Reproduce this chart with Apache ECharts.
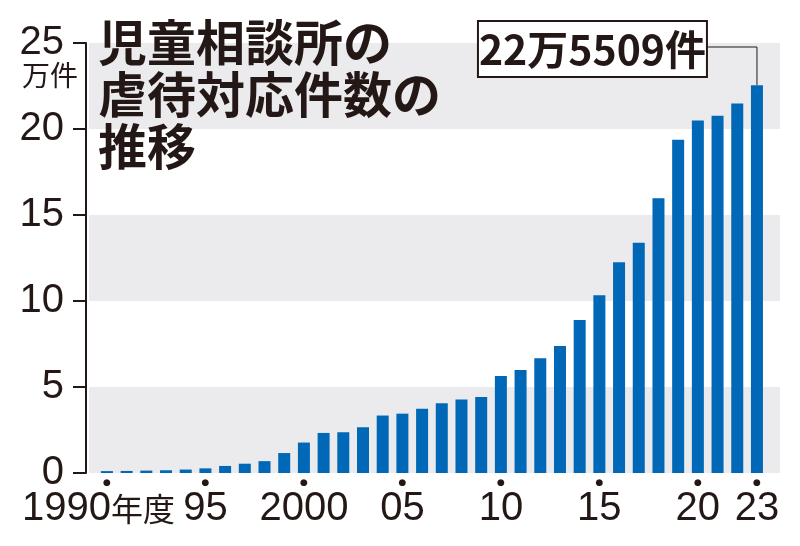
<!DOCTYPE html>
<html><head><meta charset="utf-8">
<script src="https://cdn.jsdelivr.net/npm/echarts@6/dist/echarts.min.js"></script>
<style>html,body{margin:0;padding:0;background:#fff}#c{width:800px;height:546px}</style>
</head><body><div id="c"></div>
<script>
const years = [1990,1991,1992,1993,1994,1995,1996,1997,1998,1999,2000,2001,2002,2003,2004,2005,2006,2007,2008,2009,2010,2011,2012,2013,2014,2015,2016,2017,2018,2019,2020,2021,2022,2023];
const cases = [0.11,0.12,0.14,0.16,0.20,0.27,0.41,0.54,0.69,1.16,1.77,2.33,2.37,2.66,3.34,3.45,3.73,4.06,4.27,4.42,5.64,5.99,6.67,7.38,8.89,10.33,12.26,13.38,15.98,19.38,20.50,20.77,21.48,22.55];
const tickYears = [1990,1995,2000,2005,2010,2015,2020,2023];
const tickLabels = ['1990','95','2000','05','10','15','20','23'];
const firstSuffix = '年度';
const titleText = '児童相談所の\n虐待対応件数の\n推移';
const unitText = '万件';
const calloutText = '22万5509件';

const ink = '#231815';
const numFont = 'Liberation Sans';
const cjkFont = 'Noto Sans CJK JP';
const chart = echarts.init(document.getElementById('c'));
chart.setOption({
  animation: false,
  backgroundColor: '#fff',
  title: {
    text: titleText, left: 98, top: 16, padding: 0,
    textStyle: {fontFamily: cjkFont, fontWeight: 'bold', fontSize: 49, lineHeight: 52, color: ink}
  },
  grid: {left: 89, right: 20, top: 43, bottom: 73},
  xAxis: {
    type: 'value', min: 1989.09, max: 2024.17,
    axisLine: {show: false},
    splitLine: {show: false},
    axisTick: {show: false},
    axisLabel: {
      customValues: tickYears, margin: 4, color: ink, fontFamily: numFont, fontSize: 40,
      formatter: function (v) {
        const i = tickYears.indexOf(v);
        if (i < 0) return '';
        if (i === 0) return '{d|●}\n{a|' + tickLabels[0] + '}{b|' + firstSuffix + '}';
        return '{d|●}\n{a|' + tickLabels[i] + '}';
      },
      rich: {
        d: {fontFamily: 'DejaVu Sans', fontSize: 9, lineHeight: 12, color: ink},
        a: {fontFamily: numFont, fontSize: 40, color: ink},
        b: {fontFamily: cjkFont, fontSize: 32, color: ink, padding: [0, 17, 0, 0]}
      }
    }
  },
  yAxis: {
    type: 'value', min: 0, max: 25, interval: 5, offset: 3,
    axisLine: {show: true, lineStyle: {color: ink, width: 2}},
    axisTick: {show: true, length: 13, lineStyle: {color: ink, width: 2}},
    axisLabel: {margin: 22, color: ink, fontFamily: numFont, fontSize: 40},
    splitLine: {show: false},
    splitArea: {show: true, areaStyle: {color: ['#ebebed', '#ffffff']}}
  },
  series: [{
    type: 'bar', barWidth: 12,
    itemStyle: {color: '#0068b7'},
    data: years.map((y, i) => [y, cases[i]])
  }]
});
const last = years.length - 1;
const p = chart.convertToPixel({seriesIndex: 0}, [years[last], cases[last]]);
const boxRight = p[0] - 50, boxW = 229, boxTop = 21, boxH = 56;
const midY = boxTop + boxH / 2 - 2;
chart.setOption({graphic: {elements: [
  {type: 'text', left: 22, top: 61, style: {text: unitText, fontFamily: cjkFont, fontSize: 28, fill: ink}},
  {type: 'polyline', shape: {points: [[boxRight, midY], [p[0], midY], [p[0], p[1]]]}, style: {stroke: ink, lineWidth: 1, fill: null}},
  {type: 'rect', shape: {x: boxRight - boxW, y: boxTop, width: boxW, height: boxH}, style: {fill: '#fff', stroke: ink, lineWidth: 2}},
  {type: 'text', x: boxRight - boxW / 2, y: boxTop + boxH / 2, style: {text: calloutText, fontFamily: cjkFont, fontWeight: 'bold', fontSize: 41, fill: ink, align: 'center', verticalAlign: 'middle'}}
]}});
</script></body></html>
